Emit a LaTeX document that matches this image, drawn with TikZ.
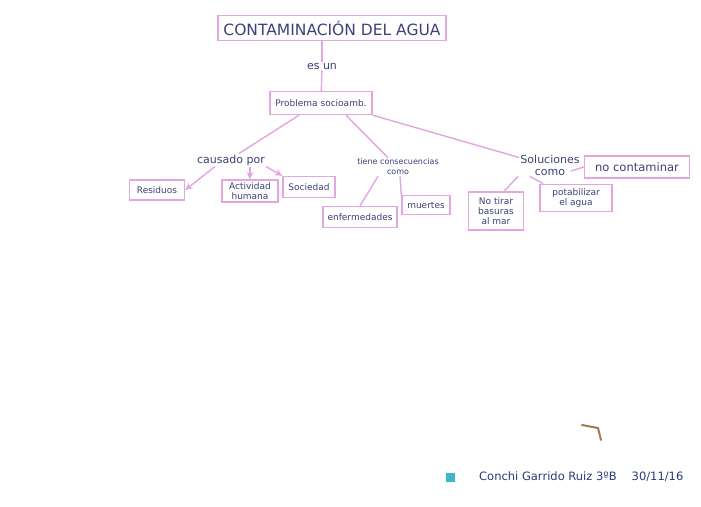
\documentclass[tikz,border=0pt]{standalone}
\usepackage{fontspec}
\setmainfont{DejaVu Sans}
\usetikzlibrary{arrows.meta,positioning}
\definecolor{pinkline}{HTML}{E2A6E0}
\definecolor{inkx}{HTML}{3E4079}
\definecolor{footink}{HTML}{2C3B7C}
\definecolor{cyanx}{HTML}{3DB6CF}
\definecolor{brownx}{HTML}{9E7C4F}
\tikzset{
  box/.style={draw=pinkline,line width=1.4pt,fill=white,align=center,inner sep=2pt,text=inkx,font=\fontsize{9}{10}\selectfont},
  lab/.style={align=center,text=inkx,font=\fontsize{11}{12}\selectfont,inner sep=1pt},
  ln/.style={pinkline,line width=1.4pt},
  ar/.style={ln,-{Stealth[length=2.6mm,width=2.4mm]}}
}
\begin{document}
\begin{tikzpicture}[x=1pt,y=-1pt]
\fill[white] (0,0) rectangle (701,506);
\useasboundingbox (0,0) rectangle (701,506);
% top of the map
\node[box,font=\fontsize{15.5}{17}\selectfont,minimum width=228pt,minimum height=25pt] (titulo) at (332,28) {CONTAMINACIÓN DEL AGUA};
\node[lab] (esun) at (322,66) {es un};
\node[box,minimum width=102pt,minimum height=23pt] (problema) at (321,103) {Problema socioamb.};
\draw[ln] (titulo.south -| esun.north) -- (esun.north);
\draw[ln] (esun) -- (problema);
% three branches
\node[lab] (causado) at (231,160) {causado por};
\node[lab,font=\fontsize{8}{10}\selectfont] (tiene) at (398,167) {tiene consecuencias\\como};
\node[lab] (soluc) at (550,165) {Soluciones\\como};
\draw[ln] (problema.209) -- ([xshift=8pt]causado.north);
\draw[ln] (problema.334) -- ([xshift=-10pt]tiene.north);
\draw[ln] (problema.south east) -- ([yshift=-4pt]soluc.north west);
% causado por
\node[box,minimum width=55pt,minimum height=20pt] (resid) at (157,190) {Residuos};
\node[box,minimum width=56pt,minimum height=22pt] (activ) at (250,191) {Actividad\\humana};
\node[box,minimum width=52pt,minimum height=21pt] (socied) at (309,187) {Sociedad};
\draw[ar] ([xshift=-16pt]causado.south) -- (resid.east);
\draw[ar] (causado.south -| activ.north) -- (activ.north);
\draw[ar] (causado.south east) -- (socied.north west);
% consecuencias
\node[box,minimum width=74pt,minimum height=21pt] (enferm) at (360,217) {enfermedades};
\node[box,minimum width=48pt,minimum height=19pt] (muertes) at (426,205) {muertes};
\draw[ln] ([xshift=-20pt]tiene.south) -- (enferm.north);
\draw[ln] ([xshift=2pt]tiene.south) -- (muertes.north west);
% soluciones
\node[box,minimum width=55pt,minimum height=38pt] (notirar) at (496,211) {No tirar\\basuras\\al mar};
\node[box,minimum width=72pt,minimum height=27pt] (potab) at (576,198) {potabilizar\\el agua};
\node[box,font=\fontsize{11.5}{13}\selectfont,minimum width=105pt,minimum height=22pt] (nocont) at (637,167) {no contaminar};
\draw[ln] ([xshift=-10pt,yshift=-6pt]soluc.east) -- (nocont.west);
\draw[ln] ([xshift=-32pt]soluc.south) -- ([xshift=8pt]notirar.north);
\draw[ln] ([xshift=-20pt]soluc.south) -- ([xshift=4pt]potab.north west);
% firma
\fill[cyanx] (446,473) rectangle (455,482);
\node[lab,text=footink,anchor=west,font=\fontsize{11.5}{13}\selectfont] (firma) at (478,477) {Conchi Garrido Ruiz 3ºB\hspace{15pt}30/11/16};
\draw[brownx,line width=2pt,line cap=round] (582,425) -- (598,428) -- (601,440);
\end{tikzpicture}
\end{document}
